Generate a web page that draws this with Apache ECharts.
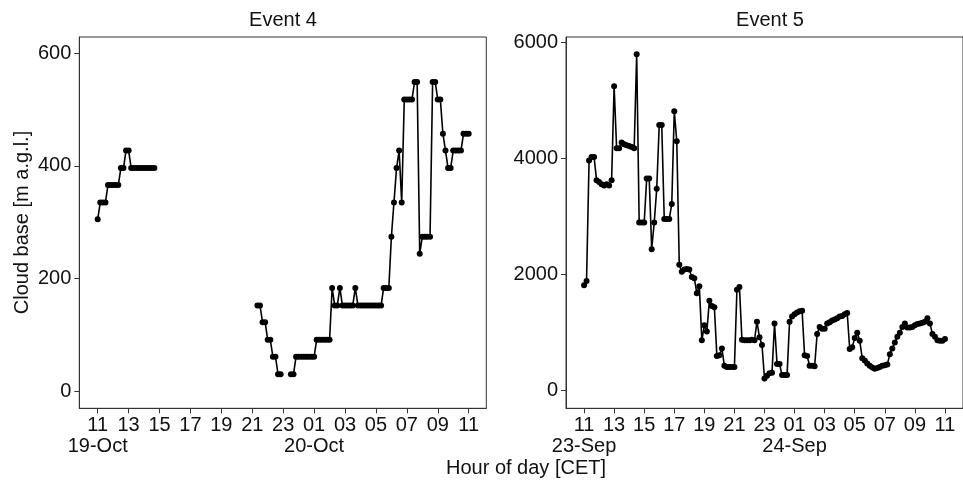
<!DOCTYPE html>
<html>
<head>
<meta charset="utf-8">
<title>Cloud base</title>
<script src="https://cdn.jsdelivr.net/npm/echarts@6.0.0/dist/echarts.min.js"></script>
<style>
  html, body { margin: 0; padding: 0; background: #fff; }
  #main { width: 963px; height: 482px; }
</style>
</head>
<body>
<div id="main"></div>
<script>
// cloud base values, one every 10 minutes, null = no reading
var event4Start = [11, 21 + 20 / 60];   // hour of day where each piece starts (19-Oct)
var event4Day = [
  305, 335, 335, 335, 366, 366,
  366, 366, 366, 396, 396, 427,
  427, 396, 396, 396, 396, 396,
  396, 396, 396, 396, 396
];
var event4Night = [
  152, 152, 122, 122, 91, 91,
  61, 61, 30, 30, null, null,
  null, 30, 30, 61, 61, 61,
  61, 61, 61, 61, 61, 91,
  91, 91, 91, 91, 91, 183,
  152, 152, 183, 152, 152, 152,
  152, 152, 183, 152, 152, 152,
  152, 152, 152, 152, 152, 152,
  152, 183, 183, 183, 274, 335,
  396, 427, 335, 518, 518, 518,
  518, 549, 549, 244, 274, 274,
  274, 274, 549, 549, 518, 518,
  457, 427, 396, 396, 427, 427,
  427, 427, 457, 457, 457
];

var event5Start = 11;   // 23-Sep
var event5Values = [
  1820, 1890, 3970, 4030, 4030, 3630,
  3600, 3560, 3540, 3560, 3540, 3630,
  5250, 4180, 4180, 4280, 4250, 4230,
  4220, 4200, 4180, 5800, 2900, 2900,
  2900, 3660, 3660, 2440, 2900, 3480,
  4580, 4580, 2960, 2960, 2960, 3220,
  4820, 4300, 2170, 2050, 2090, 2100,
  2090, 1960, 1940, 1680, 1800, 870,
  1130, 1020, 1550, 1460, 1440, 600,
  610, 730, 430, 410, 410, 410,
  410, 1740, 1790, 880, 870, 870,
  870, 880, 870, 1190, 920, 790,
  210, 260, 300, 310, 1160, 460,
  460, 270, 270, 270, 1190, 1280,
  1320, 1350, 1370, 1380, 610, 600,
  430, 430, 420, 980, 1100, 1070,
  1070, 1160, 1180, 1210, 1230, 1250,
  1280, 1290, 1320, 1340, 720, 750,
  910, 1000, 860, 560, 520, 470,
  430, 400, 380, 390, 410, 430,
  440, 450, 630, 730, 830, 930,
  1000, 1100, 1160, 1090, 1090, 1100,
  1130, 1150, 1160, 1170, 1190, 1250,
  1160, 980, 930, 870, 860, 860,
  890
];

var hourTicks = [11, 13, 15, 17, 19, 21, 23, 25, 27, 29, 31, 33, 35];
var hourLabels = ['11', '13', '15', '17', '19', '21', '23', '01', '03', '05', '07', '09', '11'];
var dateTicks = [11, 25];
var event4Dates = ['19-Oct', '20-Oct'];
var event5Dates = ['23-Sep', '24-Sep'];
var event4Ticks = [0, 200, 400, 600];
var event5Ticks = [0, 2000, 4000, 6000];

var FONT = 'Liberation Sans, Arial, sans-serif';
var TXT = '#111';
var FS = 20;

function toPoints(start, values) {
  return values.map(function (v, i) {
    return [start + i / 6, v === null ? '-' : v];
  });
}

var event4Data = toPoints(event4Start[0], event4Day)
  .concat([[18, '-']])
  .concat(toPoints(event4Start[1], event4Night));
var event5Data = toPoints(event5Start, event5Values);

function hourAxis(gridIndex, min, max) {
  return {
    type: 'value',
    gridIndex: gridIndex,
    min: min,
    max: max,
    axisLine: { show: true, onZero: false, lineStyle: { color: '#333', width: 1 } },
    splitLine: { show: false },
    axisTick: { show: true, customValues: hourTicks, length: 5, lineStyle: { color: '#333', width: 1 } },
    axisLabel: {
      customValues: hourTicks,
      formatter: function (v) { return hourLabels[hourTicks.indexOf(v)]; },
      fontSize: FS, fontFamily: FONT, color: TXT,
      lineHeight: 21.7, margin: 6, verticalAlign: 'top',
      hideOverlap: false, showMinLabel: true, showMaxLabel: true
    }
  };
}

// second axis on the same grid, only carries the date line
function dateAxis(gridIndex, min, max, dates) {
  return {
    type: 'value',
    gridIndex: gridIndex,
    position: 'bottom',
    min: min,
    max: max,
    axisLine: { show: false, onZero: false },
    splitLine: { show: false },
    axisTick: { show: false },
    axisLabel: {
      customValues: dateTicks,
      formatter: function (v) { return dates[dateTicks.indexOf(v)]; },
      fontSize: FS, fontFamily: FONT, color: TXT,
      lineHeight: 21.7, margin: 27.7, verticalAlign: 'top',
      hideOverlap: false, showMinLabel: true, showMaxLabel: true
    }
  };
}

function yAxisFor(gridIndex, min, max, ticks) {
  return {
    type: 'value',
    gridIndex: gridIndex,
    min: min,
    max: max,
    axisLine: { show: true, onZero: false, lineStyle: { color: '#333', width: 1 } },
    splitLine: { show: false },
    axisTick: { show: true, customValues: ticks, length: 5, lineStyle: { color: '#333', width: 1 } },
    axisLabel: {
      customValues: ticks, fontSize: FS, fontFamily: FONT, color: TXT, margin: 8,
      showMinLabel: true, showMaxLabel: true,
      formatter: function (v) { return String(v); }
    }
  };
}

function lineSeries(idx, data) {
  return {
    type: 'line',
    xAxisIndex: idx,
    yAxisIndex: idx,
    data: data,
    symbol: 'circle',
    symbolSize: 6,
    showAllSymbol: true,
    connectNulls: false,
    silent: true,
    lineStyle: { color: '#000', width: 1.6 },
    itemStyle: { color: '#000' }
  };
}

var myChart = echarts.init(document.getElementById('main'), null, { renderer: 'canvas' });

var option = {
  animation: false,
  backgroundColor: '#fff',
  grid: [
    { left: 79.3, top: 37, width: 407, height: 371.3, show: true, borderColor: '#333', borderWidth: 1 },
    { left: 566, top: 37, width: 407.8, height: 371.3, show: true, borderColor: '#333', borderWidth: 1 }
  ],
  xAxis: [
    hourAxis(0, 9.81, 36.14),
    hourAxis(1, 9.8, 36.2),
    dateAxis(0, 9.81, 36.14, event4Dates),
    dateAxis(1, 9.8, 36.2, event5Dates)
  ],
  yAxis: [
    yAxisFor(0, -30.7, 628.8, event4Ticks),
    yAxisFor(1, -303, 6098, event5Ticks)
  ],
  series: [
    lineSeries(0, event4Data),
    lineSeries(1, event5Data)
  ],
  graphic: [
    { type: 'text', x: 283, y: 20.5, style: { text: 'Event 4', font: FS + 'px ' + FONT, fill: TXT, textAlign: 'center', textVerticalAlign: 'middle', align: 'center', verticalAlign: 'middle' } },
    { type: 'text', x: 770, y: 20.5, style: { text: 'Event 5', font: FS + 'px ' + FONT, fill: TXT, textAlign: 'center', textVerticalAlign: 'middle', align: 'center', verticalAlign: 'middle' } },
    { type: 'text', x: 526, y: 468, style: { text: 'Hour of day [CET]', font: FS + 'px ' + FONT, fill: TXT, textAlign: 'center', textVerticalAlign: 'middle', align: 'center', verticalAlign: 'middle' } },
    { type: 'text', x: 22.5, y: 222.5, rotation: Math.PI / 2, style: { text: 'Cloud base [m a.g.l.]', font: FS + 'px ' + FONT, fill: TXT, textAlign: 'center', textVerticalAlign: 'middle', align: 'center', verticalAlign: 'middle' } }
  ]
};

myChart.setOption(option);
</script>
</body>
</html>
